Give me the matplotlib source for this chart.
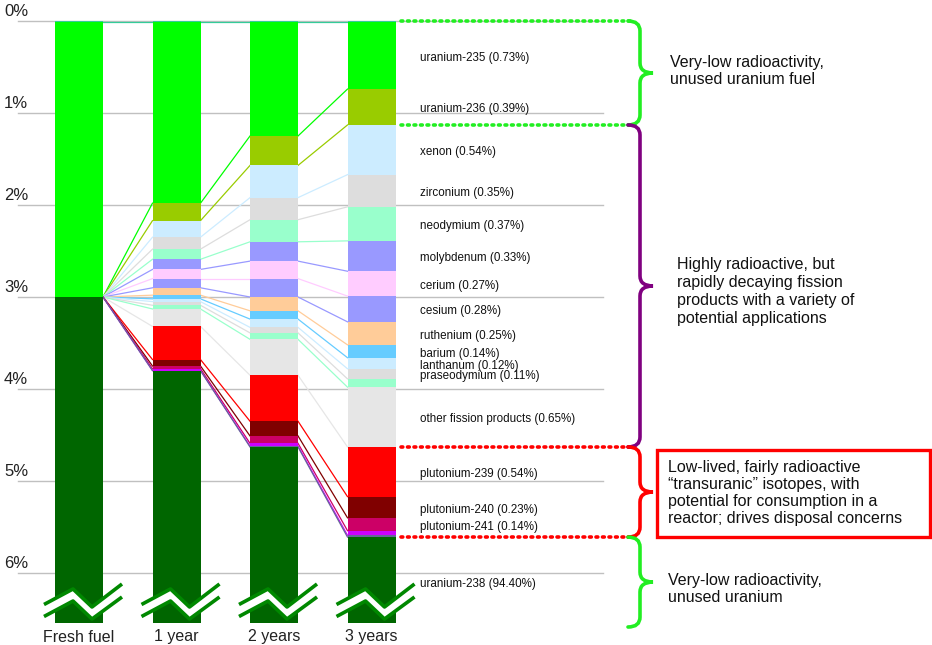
import numpy as np
import matplotlib
matplotlib.use('Agg')
import matplotlib.pyplot as plt
from matplotlib.path import Path
from matplotlib.patches import PathPatch, Rectangle, Polygon

plt.rcParams['font.family'] = ['Liberation Sans', 'DejaVu Sans']

# --- data (percent of fuel mass) ---
stages = ['Fresh fuel', '1 year', '2 years', '3 years']

isotopes = ['uranium-234', 'uranium-235', 'uranium-236', 'xenon', 'zirconium',
            'neodymium', 'molybdenum', 'cerium', 'cesium', 'ruthenium', 'barium',
            'lanthanum', 'praseodymium', 'minor fission products',
            'other fission products', 'plutonium-239', 'plutonium-240',
            'plutonium-241', 'plutonium-242', 'other actinides', 'uranium-238']

u234 = [0.01, 0.01, 0.01, 0.01]
u235 = [2.99, 1.97, 1.24, 0.73]
u236 = [0.00, 0.19, 0.32, 0.39]
xenon = [0.00, 0.18, 0.35, 0.54]
zirconium = [0.00, 0.13, 0.24, 0.35]
neodymium = [0.00, 0.11, 0.24, 0.37]
molybdenum = [0.00, 0.11, 0.21, 0.33]
cerium = [0.00, 0.10, 0.19, 0.27]
cesium = [0.00, 0.10, 0.20, 0.28]
ruthenium = [0.00, 0.08, 0.15, 0.25]
barium = [0.00, 0.04, 0.09, 0.14]
lanthanum = [0.00, 0.03, 0.09, 0.12]
praseodymium = [0.00, 0.04, 0.06, 0.11]
minor_fp = [0.00, 0.04, 0.07, 0.09]
other_fp = [0.00, 0.19, 0.39, 0.65]
pu239 = [0.00, 0.36, 0.50, 0.54]
pu240 = [0.00, 0.07, 0.16, 0.23]
pu241 = [0.00, 0.03, 0.08, 0.14]
pu242 = [0.00, 0.02, 0.03, 0.05]
other_act = [0.00, 0.00, 0.01, 0.02]
u238 = [97.00, 96.20, 95.37, 94.40]

colors = ['#33CC99', '#00FF00', '#99CC00', '#CCECFF', '#DDDDDD', '#99FFCC',
          '#9999FF', '#FFCCFF', '#9999FF', '#FFCC99', '#66CCFF', '#CCECFF',
          '#DDDDDD', '#99FFCC', '#E6E6E6', '#FF0000', '#800000', '#CC0066',
          '#CC00FF', '#666699', '#006600']

# which isotopes get a text label next to the 3-year bar
labelled = ['uranium-235', 'uranium-236', 'xenon', 'zirconium', 'neodymium',
            'molybdenum', 'cerium', 'cesium', 'ruthenium', 'barium', 'lanthanum',
            'praseodymium', 'other fission products', 'plutonium-239',
            'plutonium-240', 'plutonium-241', 'uranium-238']

values = np.array([u234, u235, u236, xenon, zirconium, neodymium, molybdenum,
                   cerium, cesium, ruthenium, barium, lanthanum, praseodymium,
                   minor_fp, other_fp, pu239, pu240, pu241, pu242, other_act, u238])

yticks = [0, 1, 2, 3, 4, 5, 6]
axis_break = 6.54   # where the bars are cut off


# pixel -> data helpers (layout only)
def dx(p):
    return (p - 79.0) / 97.5


def dy(p):
    return (p - 21.0) / 92.0


fig = plt.figure(figsize=(9.32, 6.45), dpi=100)
ax = fig.add_axes([0, 0, 1, 1])
ax.set_xlim(dx(0), dx(932))
ax.set_ylim(dy(645), dy(0))
ax.axis('off')

x = np.arange(len(stages))
width = 48 / 97.5
bottoms = np.vstack([np.zeros(len(stages)), np.cumsum(values, axis=0)[:-1]])
ends = bottoms + values

# gridlines and y labels
for t in yticks:
    ax.plot([dx(18), dx(603)], [t, t], color='#C0C0C0', lw=1.0, zorder=1)
    ax.text(dx(4), t - 0.1, f'{t}%', fontsize=12, ha='left', va='center', color='#222222')

clip = Rectangle((dx(0), 0), dx(932) - dx(0), axis_break, transform=ax.transData)

# stacked bars
for k, name in enumerate(isotopes):
    bars = ax.bar(x, values[k], width, bottom=bottoms[k], color=colors[k],
                  linewidth=0, zorder=3)
    for b in bars:
        b.set_clip_path(clip)

# connecting lines between the bottom edges of each segment
for k, name in enumerate(isotopes[:-1]):
    for i in range(len(stages) - 1):
        ax.plot([x[i] + width / 2, x[i + 1] - width / 2],
                [ends[k, i], ends[k, i + 1]], color=colors[k], lw=0.9, zorder=2)

# axis break zigzags
for i in range(len(stages)):
    left = 79 + 97.5 * i - 24
    up = [(-11, 604.5), (18, 589), (37, 607), (67, 584)]
    lo = [(-11, 616.5), (18, 601), (37, 619), (67, 597)]
    poly = [(dx(left + a), dy(b)) for a, b in up] + [(dx(left + a), dy(b)) for a, b in lo[::-1]]
    ax.add_patch(Polygon(poly, closed=True, facecolor='white', edgecolor='none', zorder=4))
    for line in (up, lo):
        ax.plot([dx(left + a) for a, b in line], [dy(b) for a, b in line],
                color='#008800', lw=2.6, zorder=5, solid_capstyle='butt')

# category labels
for i, s in enumerate(stages):
    ax.text(x[i], dy(637), s, fontsize=11.5, ha='center', va='center', color='#222222')

# labels for the 3-year bar
for k, name in enumerate(isotopes):
    if name not in labelled:
        continue
    v = values[k, -1]
    y = (bottoms[k, -1] + ends[k, -1]) / 2 + 0.025
    if name == 'uranium-238':
        y = 6.12
    ax.text(dx(420), y, f'{name} ({v:.2f}%)', fontsize=8.4, ha='left', va='center',
            color='#111111', zorder=6)


def brace(y0, y1, color):
    p0, p1 = 21 + 92 * y0, 21 + 92 * y1
    pm = (p0 + p1) / 2
    xl, xs, xt, r = 628, 640, 653, 10
    pts = [(xl, p0), (xs, p0), (xs, p0 + r), (xs, pm - r), (xs, pm), (xt, pm),
           (xs, pm), (xs, pm + r), (xs, p1 - r), (xs, p1), (xl, p1)]
    codes = [Path.MOVETO, Path.CURVE3, Path.CURVE3, Path.LINETO, Path.CURVE3,
             Path.CURVE3, Path.CURVE3, Path.CURVE3, Path.LINETO, Path.CURVE3, Path.CURVE3]
    verts = [(dx(a), dy(b)) for a, b in pts]
    ax.add_patch(PathPatch(Path(verts, codes), facecolor='none', edgecolor=color,
                           lw=2.6, zorder=6, capstyle='round'))


# group boundaries in the 3-year bar
top = 0.0
u_end = ends[isotopes.index('uranium-236'), -1]
fp_end = ends[isotopes.index('other fission products'), -1]
act_end = ends[isotopes.index('other actinides'), -1]

green = '#22EE22'
for yv, c in [(top, green), (u_end, green), (fp_end, '#FF0000'), (act_end, '#FF0000')]:
    ax.plot([dx(401), dx(630)], [yv, yv], color=c, lw=2.6, zorder=6,
            linestyle=(0, (0.5, 1.3)), dash_capstyle='round')

brace(top, u_end, green)
brace(u_end, fp_end, '#800080')
brace(fp_end, act_end, '#FF0000')
brace(act_end, dy(627), green)

ax.text(dx(670), dy(71), 'Very-low radioactivity,\nunused uranium fuel',
        fontsize=11.5, ha='left', va='center', linespacing=1.13, color='#111111')
ax.text(dx(677), dy(291), 'Highly radioactive, but\nrapidly decaying fission\n'
        'products with a variety of\npotential applications',
        fontsize=11.5, ha='left', va='center', linespacing=1.25, color='#111111')
ax.add_patch(Rectangle((dx(657), dy(537)), dx(930) - dx(657), dy(450) - dy(537),
                       facecolor='none', edgecolor='#FF0000', lw=2.4, zorder=6))
ax.text(dx(668), dy(493), 'Low-lived, fairly radioactive\n\u201ctransuranic\u201d isotopes, with\n'
        'potential for consumption in a\nreactor; drives disposal concerns',
        fontsize=11.5, ha='left', va='center', linespacing=1.15, color='#111111')
ax.text(dx(668), dy(589), 'Very-low radioactivity,\nunused uranium',
        fontsize=11.5, ha='left', va='center', linespacing=1.13, color='#111111')

fig.savefig('out.png', dpi=100)
